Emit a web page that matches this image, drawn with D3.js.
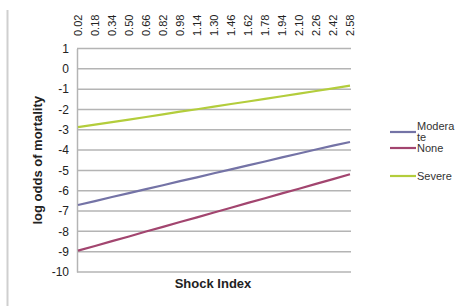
<!DOCTYPE html>
<html>
<head>
<meta charset="utf-8">
<script src="https://cdn.jsdelivr.net/npm/d3@7"></script>
<style>
  body { margin: 0; background: #fff; }
  svg { display: block; font-family: 'Liberation Sans', Arial, sans-serif; }
</style>
</head>
<body>
<svg id="chart" width="465" height="306"></svg>
<script>
// shock index categories (top axis)
const categories = ['0.02', '0.18', '0.34', '0.50', '0.66', '0.82', '0.98', '1.14', '1.30',
  '1.46', '1.62', '1.78', '1.94', '2.10', '2.26', '2.42', '2.58'];

// log odds
const moderate = [-6.70, -6.51, -6.31, -6.12, -5.92, -5.73, -5.53, -5.34, -5.14,
  -4.95, -4.75, -4.56, -4.36, -4.17, -3.97, -3.78, -3.60];
const none = [-8.95, -8.72, -8.48, -8.25, -8.01, -7.78, -7.54, -7.31, -7.07,
  -6.84, -6.60, -6.37, -6.13, -5.90, -5.66, -5.43, -5.19];
const severe = [-2.87, -2.75, -2.62, -2.50, -2.37, -2.24, -2.11, -1.99, -1.86,
  -1.73, -1.61, -1.48, -1.35, -1.22, -1.09, -0.96, -0.83];

const yTicks = [1, 0, -1, -2, -3, -4, -5, -6, -7, -8, -9, -10];

const series = [
  { name: ['Modera', 'te'], values: moderate, color: '#7473a6', ly: 132 },
  { name: ['None'], values: none, color: '#a2456f', ly: 148 },
  { name: ['Severe'], values: severe, color: '#b3cd3c', ly: 176 },
];

const svg = d3.select('#chart');

const plot = { left: 77, right: 351, top: 48.5, bottom: 272 };

// Set scales
const x = d3.scalePoint().domain(categories).range([plot.left + 1, plot.right - 1]);
const y = d3.scaleLinear().domain([-10, 1]).range([plot.bottom, plot.top]);

// page border line on the left
svg.append('line')
  .attr('x1', 7.5).attr('x2', 7.5)
  .attr('y1', 10).attr('y2', 306)
  .attr('stroke', '#cfcfcf')
  .attr('stroke-width', 2);

// gridlines
svg.append('g')
  .selectAll('line')
  .data(yTicks)
  .join('line')
  .attr('x1', plot.left)
  .attr('x2', plot.right)
  .attr('y1', (d) => y(d))
  .attr('y2', (d) => y(d))
  .attr('stroke', '#b4b4b4')
  .attr('stroke-width', 1.5);

// left axis (plain hyphen minus, like the original)
const yAxis = svg.append('g')
  .attr('transform', `translate(${plot.left},0)`)
  .call(d3.axisLeft(y).tickValues(yTicks).tickSize(0).tickPadding(8)
    .tickFormat((d) => String(d)));
yAxis.select('.domain').attr('stroke', '#b4b4b4').attr('stroke-width', 1.5);
yAxis.selectAll('text')
  .attr('font-size', '12px')
  .attr('font-family', "'Liberation Sans', Arial, sans-serif")
  .attr('fill', '#222');

// category labels along the top, reading upwards
svg.append('g')
  .selectAll('text')
  .data(categories)
  .join('text')
  .attr('transform', (d) => `translate(${x(d)},36) rotate(-90)`)
  .attr('dy', '0.35em')
  .attr('text-anchor', 'start')
  .attr('font-size', '11px')
  .attr('fill', '#222')
  .text((d) => d);

// lines
const line = d3.line()
  .x((d, i) => x(categories[i]))
  .y((d) => y(d));

svg.append('g')
  .selectAll('path')
  .data(series)
  .join('path')
  .attr('d', (d) => line(d.values))
  .attr('fill', 'none')
  .attr('stroke', (d) => d.color)
  .attr('stroke-width', 2.2);

// axis titles
svg.append('text')
  .attr('x', 213)
  .attr('y', 288)
  .attr('text-anchor', 'middle')
  .attr('font-size', '13px')
  .attr('font-weight', 'bold')
  .attr('fill', '#222')
  .text('Shock Index');

svg.append('text')
  .attr('transform', `translate(42,${(plot.top + plot.bottom) / 2}) rotate(-90)`)
  .attr('text-anchor', 'middle')
  .attr('font-size', '13px')
  .attr('font-weight', 'bold')
  .attr('fill', '#222')
  .text('log odds of mortality');

// legend
const legend = svg.append('g')
  .selectAll('g')
  .data(series)
  .join('g')
  .attr('transform', (d) => `translate(390,${d.ly})`);

legend.append('line')
  .attr('x1', 0).attr('x2', 26)
  .attr('stroke', (d) => d.color)
  .attr('stroke-width', 2.2);

legend.append('text')
  .attr('x', 27)
  .attr('font-size', '11px')
  .attr('fill', '#333')
  .selectAll('tspan')
  .data((d) => d.name.map((t, i) => ({ t, i, n: d.name.length })))
  .join('tspan')
  .attr('x', 27)
  .attr('y', (d) => (d.i - (d.n - 1) / 2) * 11)
  .attr('dy', '0.35em')
  .text((d) => d.t);
</script>
</body>
</html>
